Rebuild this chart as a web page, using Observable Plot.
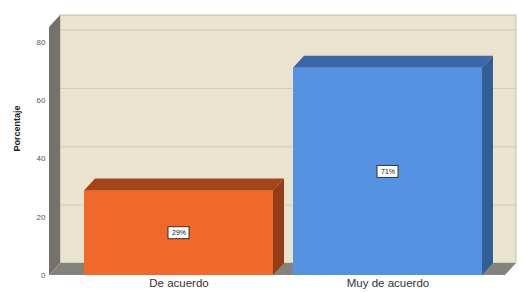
<!DOCTYPE html>
<html><head><meta charset="utf-8">
<script src="https://cdn.jsdelivr.net/npm/d3@7"></script>
<script src="https://cdn.jsdelivr.net/npm/@observablehq/plot@0.6"></script>
<style>body{margin:0;background:#fff;}</style>
</head><body>
<div id="chart"></div>
<script>
const categories = ["De acuerdo", "Muy de acuerdo"];
const percentages = [29, 71];
const valueLabels = ["29%", "71%"];
const yTicks = [0, 20, 40, 60, 80];
const frontColors = ["#f1692a", "#5692e2"];
const topColors = ["#a5441b", "#3a67a5"];
const sideColors = ["#943b17", "#335d96"];

const data = categories.map((c, i) => ({cat: c, value: percentages[i], label: valueLabels[i], i}));
const DX = 11, DY = -12;

const chart = Plot.plot({
  width: 524, height: 293,
  marginLeft: 49, marginRight: 19, marginTop: 27, marginBottom: 18,
  style: {background: "white", fontFamily: "'Liberation Sans', Arial, sans-serif", fontSize: "8px", color: "#555", overflow: "visible"},
  x: {domain: categories, paddingInner: 0.0957, paddingOuter: 0.136, align: 0.596, axis: null},
  y: {domain: [0, 85], ticks: yTicks, tickSize: 0, tickPadding: 4, label: null},
  color: {domain: categories, range: frontColors},
  marks: [
    Plot.ruleY(yTicks.filter(t => t > 0), {dx: DX, dy: DY, stroke: "#d3caae"}),
    Plot.barY(data, {x: "cat", y: "value", fill: "cat"}),
    Plot.barY(data, {x: "cat", y1: d => d.value / 2, y2: d => d.value / 2, insetTop: -6, insetBottom: -6, insetLeft: 84, insetRight: 84, fill: "white", stroke: "#333", strokeWidth: 1}),
    Plot.text(data, {x: "cat", y: d => d.value / 2, text: "label", fontSize: 7, fill: "#111"}),
    Plot.text(categories, {x: d => d, frameAnchor: "bottom", dy: 11, fontSize: 11.5, fill: "#333"}),
    Plot.text(["Porcentaje"], {frameAnchor: "left", rotate: -90, dx: -32, fontSize: 9, fontWeight: "bold", fill: "#222"})
  ]
});

document.getElementById("chart").appendChild(chart);

const svg = d3.select(chart);
const xs = chart.scale("x"), ys = chart.scale("y");
const [x0, x1] = xs.range;
const yBot = ys.apply(0), yTop = ys.apply(85);
const poly = pts => pts.map(p => p.join(",")).join(" ");

// walls inserted behind everything
const walls = svg.insert("g", ":first-child");
walls.append("polygon")
  .attr("points", poly([[x0 + DX, yTop + DY], [x1 + DX, yTop + DY], [x1 + DX, yBot + DY], [x0 + DX, yBot + DY]]))
  .attr("fill", "#eae3cf").attr("stroke", "#b9b3a3").attr("stroke-width", 0.8);
walls.append("polygon")
  .attr("points", poly([[x0, yTop], [x0 + DX, yTop + DY], [x0 + DX, yBot + DY], [x0, yBot]]))
  .attr("fill", "#72726b");
walls.append("polygon")
  .attr("points", poly([[x0, yBot], [x0 + DX, yBot + DY], [x1 + DX, yBot + DY], [x1, yBot]]))
  .attr("fill", "#83837b");
// keep white background rect behind walls if any
svg.select("style").lower();

// 3D faces of bars
const faces = svg.append("g");
data.forEach(d => {
  const bx = xs.apply(d.cat), bw = xs.bandwidth;
  const top = ys.apply(d.value), base = ys.apply(0);
  faces.append("polygon")
    .attr("points", poly([[bx, top], [bx + DX, top + DY], [bx + bw + DX, top + DY], [bx + bw, top]]))
    .attr("fill", topColors[d.i]);
  faces.append("polygon")
    .attr("points", poly([[bx + bw, top], [bx + bw + DX, top + DY], [bx + bw + DX, base + DY], [bx + bw, base]]))
    .attr("fill", sideColors[d.i]);
});
</script>
</body></html>
